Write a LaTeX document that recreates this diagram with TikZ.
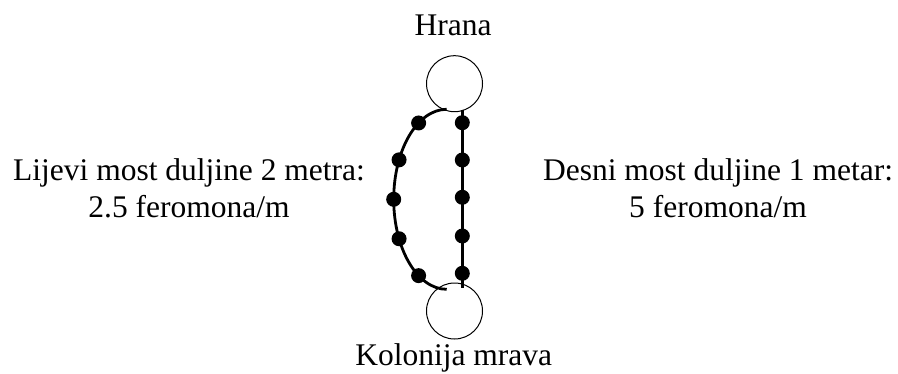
\documentclass[tikz,border=0pt]{standalone}
\usepackage{fontspec}
\setmainfont{Liberation Serif}
\usetikzlibrary{positioning}

\begin{document}
\begin{tikzpicture}[x=0.5pt, y=-0.5pt,
  natpis/.style={anchor=base, align=center, inner sep=0pt, font=\fontsize{15.75}{18.4}\selectfont},
  krug/.style={draw, circle, line width=0.5pt, minimum size=28pt, inner sep=0pt},
  most/.style={line width=1.4pt},
  mrav/.style={fill=black, circle, minimum size=7.5pt, inner sep=0pt}]

\useasboundingbox (0,0) rectangle (898,374);

\begin{scope}{
% hrana i kolonija
\node[krug] (hrana) at (454.5,83.7) {};
\node[krug] (kolonija) at (454.5,311) {};

\node[natpis] (hranaTxt) at (453,36) {Hrana};
\node[natpis] (kolonijaTxt) at (453.7,365) {Kolonija mrava};

% lijevi most
\coordinate (lijeviA) at (446.7,109.3);
\draw[most] (lijeviA) arc[start angle=90, end angle=270, x radius=26.5pt, y radius=45pt] coordinate (lijeviB);
\foreach \a [count=\i] in {122,154,180,206,238}
  \node[mrav] (l\i) at ({446.7+53*cos(\a)},{199.3+90*sin(\a)}) {};

% desni most
\coordinate (desniA) at (462.3,110);
\coordinate (desniB) at (462.3,288);
\draw[most] (desniA) -- (desniB);
\foreach \y [count=\i] in {122.7,160,197.3,236,273.3}
  \node[mrav] (d\i) at (462.3,\y) {};

\node[natpis] (lijeviTxt) at (189,217) {Lijevi most duljine 2 metra:\\ 2.5 feromona/m};
\node[natpis] (desniTxt) at (718,217) {Desni most duljine 1 metar:\\ 5 feromona/m};
} \end{scope}

\end{tikzpicture}
\end{document}
